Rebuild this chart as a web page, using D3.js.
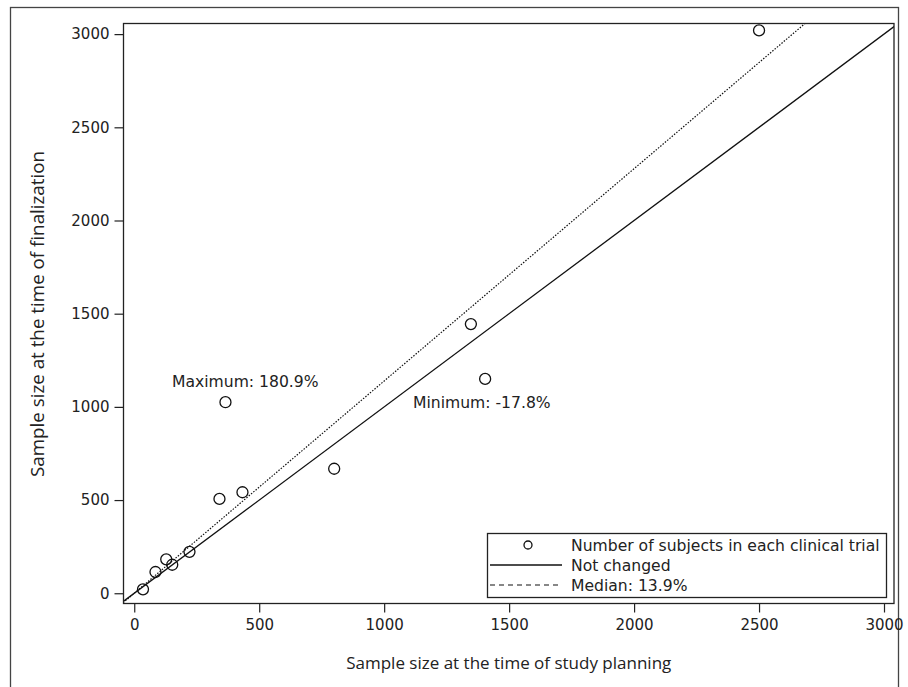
<!DOCTYPE html>
<html lang="en">
<head>
<meta charset="utf-8">
<style>
  body { margin: 0; background: #fff; }
  svg text { font-family: "DejaVu Sans", sans-serif; fill: #222; }
  .lab { font-family: "Open Sans", "Noto Sans", sans-serif; font-size: 17px; }
  .axis path, .axis line { stroke: #222; stroke-width: 1.2; }
</style>
</head>
<body>
<svg width="908" height="687"></svg>
<script src="https://cdn.jsdelivr.net/npm/d3@7"></script>
<script>
// sample sizes per trial: at planning vs at finalization
var planned = [2500, 1347, 1404, 800, 365, 433, 341, 221, 152, 128, 85, 35];
var final   = [3020, 1444, 1150, 668, 1025, 542, 506, 222, 153, 182, 114, 21];
var xTicks = [0, 500, 1000, 1500, 2000, 2500, 3000];
var yTicks = [0, 500, 1000, 1500, 2000, 2500, 3000];
var medianPct = 13.9;
var legendLabels = ["Number of subjects in each clinical trial", "Not changed", "Median: 13.9%"];

var svg = d3.select("svg");
var pL = 123.5, pR = 894, pT = 23.5, pB = 603.5;

var x = d3.scaleLinear().domain([-43, 3040]).range([pL, pR]);
var y = d3.scaleLinear().domain([-55, 3057]).range([pB, pT]);

// outer frame
svg.append("rect").attr("x", 10.5).attr("y", 7.5).attr("width", 888).attr("height", 700)
  .attr("fill", "none").attr("stroke", "#444").attr("stroke-width", 1.3);

svg.append("defs").append("clipPath").attr("id", "clip")
  .append("rect").attr("x", pL).attr("y", pT).attr("width", pR - pL).attr("height", pB - pT);

var plot = svg.append("g").attr("clip-path", "url(#clip)");

// identity line
plot.append("line")
  .attr("x1", x(-100)).attr("y1", y(-100)).attr("x2", x(3200)).attr("y2", y(3200))
  .attr("stroke", "#111").attr("stroke-width", 1.3);
// median line
var k = 1 + medianPct / 100;
plot.append("line")
  .attr("x1", x(-100)).attr("y1", y(-100 * k)).attr("x2", x(3200)).attr("y2", y(3200 * k))
  .attr("stroke", "#111").attr("stroke-width", 1.2).attr("stroke-dasharray", "1.5,1.5");

plot.selectAll("circle").data(planned).enter().append("circle")
  .attr("cx", function(d) { return x(d); })
  .attr("cy", function(d, i) { return y(final[i]); })
  .attr("r", 5.5)
  .attr("fill", "none").attr("stroke", "#111").attr("stroke-width", 1.3);

// plot border
svg.append("rect").attr("x", pL).attr("y", pT).attr("width", pR - pL).attr("height", pB - pT)
  .attr("fill", "none").attr("stroke", "#222").attr("stroke-width", 1.3);

svg.append("g").attr("class", "axis").attr("transform", "translate(0," + pB + ")")
  .call(d3.axisBottom(x).tickValues(xTicks).tickSize(9).tickPadding(7).tickFormat(d3.format("d")));
svg.append("g").attr("class", "axis").attr("transform", "translate(" + pL + ",0)")
  .call(d3.axisLeft(y).tickValues(yTicks).tickSize(9).tickPadding(5).tickFormat(d3.format("d")));
svg.selectAll(".axis .domain").remove();
svg.selectAll(".axis text").attr("font-size", 15).attr("font-family", "DejaVu Sans, sans-serif").attr("fill", "#222");

svg.append("text").attr("class", "lab").attr("x", (pL + pR) / 2).attr("y", 669)
  .attr("text-anchor", "middle").text("Sample size at the time of study planning");
svg.append("text").attr("class", "lab").attr("transform", "translate(44," + 314 + ") rotate(-90)")
  .attr("text-anchor", "middle").style("font-size", "18.8px").text("Sample size at the time of finalization");

// annotations
svg.append("text").attr("x", 172).attr("y", 387).attr("font-size", 15.6).text("Maximum: 180.9%");
svg.append("text").attr("x", 413).attr("y", 408).attr("font-size", 15.6).text("Minimum: -17.8%");

// legend
var lg = svg.append("g");
lg.append("rect").attr("x", 487.5).attr("y", 533.5).attr("width", 399).attr("height", 64)
  .attr("fill", "#fff").attr("stroke", "#222").attr("stroke-width", 1.3);
var rows = [545, 565, 585];
lg.append("circle").attr("cx", 528).attr("cy", rows[0]).attr("r", 4)
  .attr("fill", "none").attr("stroke", "#111").attr("stroke-width", 1.3);
lg.append("line").attr("x1", 490).attr("x2", 562).attr("y1", rows[1]).attr("y2", rows[1])
  .attr("stroke", "#111").attr("stroke-width", 1.3);
lg.append("line").attr("x1", 490).attr("x2", 562).attr("y1", rows[2]).attr("y2", rows[2])
  .attr("stroke", "#111").attr("stroke-width", 1.2).attr("stroke-dasharray", "5,4");
lg.selectAll("text.l").data(legendLabels).enter().append("text").attr("class", "l")
  .attr("x", 571).attr("y", function(d, i) { return rows[i] + 5.5; })
  .attr("font-size", 15.6).text(function(d) { return d; });
</script>
</body>
</html>
